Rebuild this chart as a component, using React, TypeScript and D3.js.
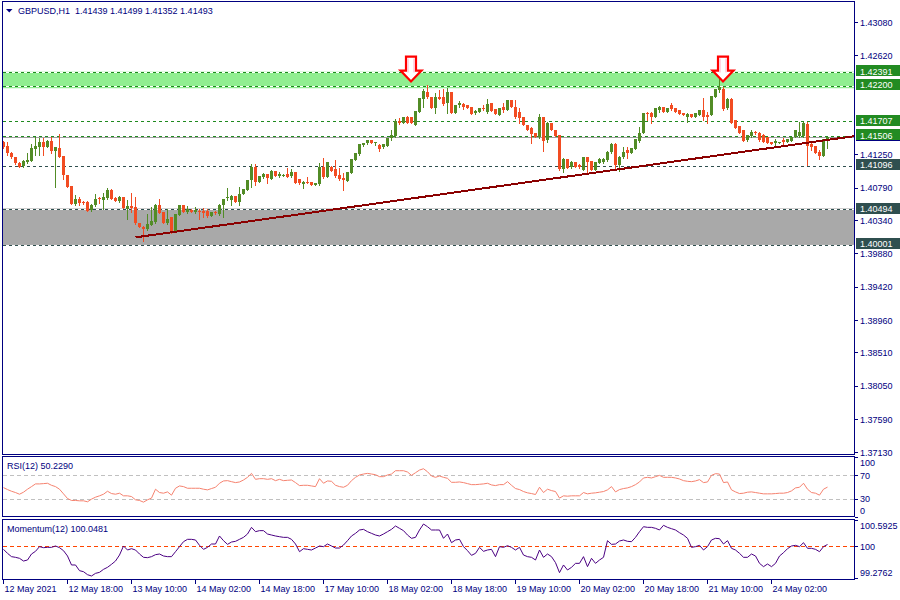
import React from "react";
import * as d3 from "d3";

const titleText = "GBPUSD,H1  1.41439 1.41499 1.41352 1.41493";
const rsiTitle = "RSI(12) 50.2290";
const momTitle = "Momentum(12) 100.0481";

const opens = [
1.41430,1.41374,1.41277,1.41222,1.41139,1.41097,1.41153,1.41167,1.41333,1.41360,
1.41430,1.41360,1.41443,1.41305,1.41347,1.41236,1.40973,1.40820,1.40571,1.40640,
1.40599,1.40599,1.40488,1.40557,1.40654,1.40627,1.40654,1.40765,1.40654,1.40613,
1.40668,1.40502,1.40544,1.40530,1.40308,1.40253,1.40225,1.40281,1.40322,1.40557,
1.40460,1.40308,1.40391,1.40184,1.40419,1.40557,1.40460,1.40488,1.40460,1.40474,
1.40474,1.40474,1.40405,1.40460,1.40433,1.40557,1.40668,1.40627,1.40682,1.40599,
1.40710,1.40765,1.40903,1.41084,1.40876,1.40945,1.40987,1.40917,1.41028,1.40959,
1.40959,1.40987,1.40959,1.41014,1.40917,1.40848,1.40876,1.40876,1.40834,1.40848,
1.41084,1.40945,1.41084,1.41056,1.40973,1.40931,1.40890,1.41000,1.41181,1.41264,
1.41388,1.41416,1.41457,1.41416,1.41388,1.41360,1.41374,1.41485,1.41513,1.41720,
1.41692,1.41775,1.41775,1.41665,1.41844,1.42024,1.42121,1.42052,1.41900,1.42052,
1.42052,1.41969,1.42121,1.41831,1.41941,1.41955,1.41941,1.41914,1.41831,1.41844,
1.41900,1.41844,1.41969,1.41886,1.41803,1.41914,1.41872,1.42010,1.41914,1.41844,
1.41775,1.41665,1.41623,1.41554,1.41499,1.41775,1.41457,1.41692,1.41596,1.41526,
1.41056,1.41194,1.41084,1.41153,1.41113,1.41042,1.41222,1.41167,1.41042,1.41139,
1.41153,1.41181,1.41291,1.41402,1.41113,1.41222,1.41319,1.41277,1.41333,1.41443,
1.41554,1.41831,1.41831,1.41775,1.41872,1.41914,1.41844,1.41941,1.41900,1.41872,
1.41831,1.41775,1.41817,1.41775,1.41803,1.41872,1.41803,1.41803,1.42052,1.42149,
1.42163,1.41900,1.42024,1.41734,1.41651,1.41596,1.41457,1.41513,1.41568,1.41554,
1.41526,1.41499,1.41430,1.41416,1.41416,1.41457,1.41430,1.41443,1.41499,1.41513,
1.41513,1.41678,1.41402,1.41374,1.41291,1.41236,1.41439];

const highs = [
1.41443,1.41430,1.41291,1.41222,1.41153,1.41181,1.41277,1.41402,1.41499,1.41485,
1.41485,1.41457,1.41499,1.41360,1.41540,1.41236,1.40973,1.40820,1.40696,1.40668,
1.40613,1.40613,1.40571,1.40710,1.40668,1.40724,1.40793,1.40779,1.40668,1.40682,
1.40668,1.40627,1.40724,1.40668,1.40308,1.40267,1.40433,1.40530,1.40571,1.40640,
1.40460,1.40502,1.40391,1.40433,1.40557,1.40557,1.40544,1.40502,1.40530,1.40502,
1.40516,1.40502,1.40460,1.40474,1.40571,1.40640,1.40793,1.40696,1.40682,1.40807,
1.40779,1.40903,1.41125,1.41125,1.40959,1.41000,1.40987,1.41042,1.41028,1.41014,
1.40987,1.41070,1.41056,1.41014,1.40917,1.40890,1.40945,1.40876,1.40862,1.41139,
1.41208,1.41153,1.41097,1.41181,1.41070,1.41000,1.41014,1.41194,1.41277,1.41402,
1.41416,1.41457,1.41457,1.41430,1.41402,1.41402,1.41485,1.41596,1.41748,1.41761,
1.41775,1.41789,1.41775,1.41858,1.42038,1.42163,1.42218,1.42052,1.42107,1.42149,
1.42163,1.42176,1.42121,1.41941,1.41996,1.41969,1.41941,1.41914,1.41872,1.41900,
1.41941,1.42024,1.41969,1.41886,1.41900,1.41969,1.42010,1.42010,1.42010,1.41900,
1.41775,1.41665,1.41637,1.41554,1.41817,1.41775,1.41706,1.41692,1.41596,1.41526,
1.41208,1.41194,1.41167,1.41153,1.41125,1.41222,1.41222,1.41167,1.41153,1.41208,
1.41208,1.41305,1.41416,1.41416,1.41236,1.41360,1.41360,1.41347,1.41471,1.41637,
1.41831,1.41844,1.41844,1.41900,1.41927,1.41914,1.41900,1.41969,1.41900,1.41872,
1.41831,1.41831,1.41817,1.41831,1.41872,1.42038,1.41844,1.42066,1.42163,1.42342,
1.42190,1.42038,1.42038,1.41734,1.41651,1.41596,1.41526,1.41596,1.41582,1.41568,
1.41540,1.41499,1.41430,1.41471,1.41430,1.41485,1.41471,1.41499,1.41596,1.41706,
1.41706,1.41706,1.41416,1.41374,1.41319,1.41471,1.41499];

const lows = [
1.41347,1.41250,1.41208,1.41125,1.41084,1.41084,1.41139,1.41167,1.41250,1.41250,
1.41250,1.41360,1.41277,1.40807,1.41222,1.40917,1.40807,1.40571,1.40557,1.40557,
1.40571,1.40474,1.40474,1.40544,1.40585,1.40502,1.40640,1.40640,1.40613,1.40599,
1.40516,1.40364,1.40460,1.40294,1.40253,1.40059,1.40211,1.40281,1.40308,1.40447,
1.40308,1.40294,1.40170,1.40184,1.40419,1.40460,1.40447,1.40460,1.40447,1.40364,
1.40391,1.40391,1.40405,1.40433,1.40419,1.40391,1.40627,1.40557,1.40599,1.40557,
1.40710,1.40765,1.40807,1.40834,1.40876,1.40931,1.40862,1.40917,1.40959,1.40945,
1.40959,1.40945,1.40945,1.40862,1.40848,1.40793,1.40862,1.40834,1.40834,1.40834,
1.40931,1.40945,1.41028,1.40945,1.40903,1.40765,1.40890,1.41000,1.41181,1.41250,
1.41374,1.41402,1.41416,1.41388,1.41305,1.41347,1.41374,1.41457,1.41499,1.41678,
1.41692,1.41692,1.41692,1.41665,1.41844,1.41914,1.42038,1.41900,1.41831,1.42024,
1.41941,1.41831,1.41831,1.41831,1.41914,1.41886,1.41900,1.41817,1.41817,1.41844,
1.41872,1.41831,1.41858,1.41817,1.41803,1.41844,1.41872,1.41914,1.41761,1.41692,
1.41665,1.41596,1.41416,1.41499,1.41485,1.41305,1.41430,1.41596,1.41513,1.41042,
1.41014,1.41070,1.41070,1.41084,1.41070,1.41042,1.41000,1.41042,1.41042,1.41139,
1.41139,1.41167,1.41277,1.41056,1.41028,1.41208,1.41208,1.41277,1.41333,1.41430,
1.41554,1.41734,1.41692,1.41775,1.41844,1.41844,1.41844,1.41872,1.41844,1.41817,
1.41803,1.41706,1.41775,1.41775,1.41803,1.41734,1.41692,1.41803,1.42052,1.42121,
1.41872,1.41886,1.41692,1.41623,1.41554,1.41443,1.41443,1.41499,1.41540,1.41443,
1.41430,1.41416,1.41402,1.41360,1.41416,1.41388,1.41430,1.41443,1.41499,1.41499,
1.41499,1.41113,1.41319,1.41277,1.41194,1.41236,1.41352];

const closes = [
1.41360,1.41277,1.41222,1.41139,1.41084,1.41167,1.41181,1.41347,1.41374,1.41430,
1.41360,1.41443,1.41305,1.41360,1.41222,1.40973,1.40807,1.40571,1.40640,1.40585,
1.40585,1.40474,1.40557,1.40640,1.40640,1.40668,1.40765,1.40640,1.40613,1.40668,
1.40516,1.40544,1.40516,1.40308,1.40253,1.40225,1.40294,1.40336,1.40557,1.40447,
1.40308,1.40364,1.40170,1.40433,1.40557,1.40460,1.40502,1.40460,1.40488,1.40460,
1.40447,1.40405,1.40460,1.40447,1.40557,1.40640,1.40675,1.40682,1.40599,1.40710,
1.40779,1.40903,1.41084,1.40876,1.40959,1.40987,1.40931,1.41028,1.40959,1.40987,
1.40973,1.40945,1.41014,1.40862,1.40862,1.40876,1.40862,1.40834,1.40862,1.41084,
1.40945,1.41153,1.41028,1.40959,1.40917,1.40903,1.41014,1.41194,1.41277,1.41402,
1.41416,1.41457,1.41416,1.41430,1.41333,1.41402,1.41485,1.41526,1.41720,1.41692,
1.41775,1.41692,1.41692,1.41858,1.42038,1.42135,1.42052,1.41900,1.42052,1.42024,
1.41955,1.42121,1.41831,1.41941,1.41969,1.41914,1.41900,1.41817,1.41858,1.41900,
1.41886,1.41955,1.41858,1.41817,1.41900,1.41872,1.42010,1.41914,1.41775,1.41761,
1.41665,1.41596,1.41540,1.41499,1.41775,1.41443,1.41692,1.41596,1.41513,1.41056,
1.41194,1.41070,1.41153,1.41084,1.41084,1.41222,1.41153,1.41042,1.41153,1.41194,
1.41194,1.41291,1.41402,1.41113,1.41222,1.41291,1.41277,1.41347,1.41471,1.41554,
1.41831,1.41817,1.41775,1.41900,1.41914,1.41844,1.41900,1.41886,1.41844,1.41817,
1.41803,1.41817,1.41775,1.41831,1.41872,1.41775,1.41775,1.42066,1.42163,1.42190,
1.41886,1.42024,1.41692,1.41623,1.41554,1.41443,1.41526,1.41568,1.41554,1.41457,
1.41430,1.41416,1.41402,1.41443,1.41430,1.41430,1.41471,1.41499,1.41596,1.41568,
1.41692,1.41374,1.41360,1.41277,1.41236,1.41471,1.41493];

const rsiValues = [
49.4,46.1,43.3,41.1,38.3,41.7,46.7,51.1,55.6,55.6,
56.1,56.7,53.3,51.1,46.7,38.9,31.1,27.8,27.8,27.2,
27.2,25.6,30.0,33.3,35.6,38.3,43.3,39.4,38.3,40.0,
35.6,35.6,34.4,28.9,27.8,25.0,28.9,31.7,46.7,41.1,
40.0,42.2,36.7,48.3,52.2,51.1,48.3,48.3,48.3,48.3,
46.7,45.6,47.8,50.0,56.7,60.6,61.1,59.4,57.8,58.9,
62.2,66.7,73.3,63.3,64.4,64.4,63.3,64.4,61.1,63.3,
61.1,61.7,62.2,57.8,52.8,53.3,53.3,52.2,51.1,64.4,
56.7,60.6,60.0,53.3,51.1,50.0,53.3,61.1,66.7,70.6,
72.2,73.3,72.2,71.1,67.8,67.8,70.6,72.2,77.8,77.8,
77.8,75.6,70.0,74.4,78.9,81.1,76.1,68.9,66.7,68.9,
66.7,65.0,58.3,58.3,58.9,57.8,56.1,54.4,54.4,55.0,
55.6,56.7,53.9,52.8,54.4,54.4,59.4,53.3,47.8,46.1,
42.8,40.6,39.4,37.8,50.0,41.1,46.7,44.4,42.8,31.7,
35.6,35.0,35.6,35.6,35.6,41.1,38.9,40.0,40.6,41.7,
42.8,45.6,51.1,42.2,46.1,47.8,48.9,51.1,54.4,58.9,
65.6,66.7,65.6,67.8,70.0,66.7,66.7,66.7,65.6,63.9,
61.1,60.0,59.4,60.6,62.8,57.8,58.9,70.0,72.8,72.2,
57.8,58.9,45.6,42.2,39.4,40.0,41.7,42.2,41.1,40.0,
38.9,38.9,38.9,39.4,40.0,40.0,41.1,43.9,48.9,50.0,
56.7,46.7,41.1,40.0,36.7,46.7,50.229];

const momentumValues = [
99.938,99.847,99.772,99.757,99.734,99.673,99.696,99.832,99.893,99.999,
99.976,99.983,99.983,100.014,99.976,99.908,99.787,99.583,99.583,99.454,
99.431,99.363,99.333,99.393,99.416,99.484,99.530,99.598,99.673,99.809,
100.014,99.923,99.953,99.923,99.832,99.757,99.749,99.772,99.817,99.832,
99.787,99.772,99.772,99.885,99.999,100.112,100.165,100.165,100.150,100.029,
99.938,99.983,100.059,100.059,100.241,100.135,100.051,100.104,100.120,100.165,
100.210,100.286,100.437,100.339,100.362,100.362,100.286,100.263,100.241,100.225,
100.210,100.210,100.165,100.059,99.885,99.953,99.938,99.923,99.968,100.014,
99.999,100.059,100.014,99.968,99.968,100.036,100.135,100.241,100.301,100.377,
100.392,100.339,100.301,100.263,100.241,100.286,100.339,100.392,100.468,100.415,
100.362,100.263,100.188,100.210,100.377,100.513,100.452,100.377,100.377,100.377,
100.188,100.286,100.089,100.150,100.165,99.999,99.908,99.802,99.847,99.983,
99.893,99.923,99.938,99.772,99.999,99.983,100.021,99.983,99.923,99.983,
99.809,99.772,99.757,99.696,99.923,99.757,99.832,99.772,99.636,99.409,
99.583,99.469,99.530,99.620,99.620,99.772,99.545,99.734,99.620,99.696,
99.757,100.135,100.051,100.059,100.127,100.150,100.120,100.112,100.210,100.339,
100.452,100.437,100.437,100.415,100.377,100.483,100.437,100.407,100.377,100.316,
100.263,100.188,99.983,99.999,100.029,99.923,99.999,100.150,100.188,100.180,
100.059,100.135,99.961,99.923,99.847,99.757,99.757,99.832,99.787,99.620,
99.545,99.605,99.545,99.620,99.787,99.862,99.953,100.014,100.029,99.999,
100.089,99.961,99.961,99.938,99.885,99.999,100.0481];

const priceTicks = [1.43080, 1.42620, 1.41250, 1.40790, 1.40340, 1.39880, 1.39420, 1.38960, 1.38510, 1.38050, 1.37590, 1.37130];
const timeLabels = ["12 May 2021", "12 May 18:00", "13 May 10:00", "14 May 02:00", "14 May 18:00", "17 May 10:00", "18 May 02:00", "18 May 18:00", "19 May 10:00", "20 May 02:00", "20 May 18:00", "21 May 10:00", "24 May 02:00"];
const timeLabelBars = [0, 16, 32, 48, 64, 80, 96, 112, 128, 144, 160, 176, 192];

const greenLevels = [1.42391, 1.42200, 1.41707, 1.41506];
const slateLevels = [1.41096, 1.40494, 1.40001];
const greenZone = [1.42173, 1.42402];
const greyZone = [1.40005, 1.40510];
const trendBars = [33, 206];
const trendPrices = [1.40110, 1.41458];
const arrowBars = [102, 180];
const arrowPrices = [1.42266, 1.42266];
const rsiLevels = [70, 30];
const rsiAxisLabels = [100, 70, 30, 0];
const momAxisLabels = ["100.5925", "100", "99.2762"];
const momAxisValues = [100.5925, 100, 99.2762];

export default function App() {
  const n = closes.length;
  const L = 2.5, R = 854.5;
  const navy = "#000080";
  const font = "'Liberation Sans', Arial, sans-serif";
  const bullC = "#528C26";
  const bearC = "#F24C22";
  const greenLine = "#1F8A1F";
  const slate = "#2F4F4F";

  const x = d3.scaleLinear().domain([0, n - 1]).range([3.5, 3.5 + 4 * (n - 1)]);
  const y = d3.scaleLinear().domain([1.371259, 1.433664]).range([453, 2]);
  const yR = d3.scaleLinear().domain([0, 100]).range([517, 457.5]);
  const yM = d3.scaleLinear().domain([99.2762, 100.5925]).range([578.5, 520.5]);
  const cr = (v: number) => Math.round(v - 0.5) + 0.5;

  const rsiPath = d3.line<number>().x((_, i) => x(i)).y((d) => yR(d))(rsiValues) || "";
  const momPath = d3.line<number>().x((_, i) => x(i)).y((d) => yM(d))(momentumValues) || "";

  const tx0 = x(trendBars[0]), ty0 = y(trendPrices[0]);
  const tx1 = x(trendBars[1]), ty1 = y(trendPrices[1]);
  const slope = (ty1 - ty0) / (tx1 - tx0);
  const tyR = ty0 + slope * (R - tx0);

  const lastClose = closes[n - 1];

  const levelLabel = (v: number, bg: string, key: string) => {
    const cy = y(v);
    return (
      <g key={key}>
        <rect x={856} y={Math.round(cy) - 7} width={44} height={11} fill={bg} />
        <text x={860} y={cy + 2.2} fill="#ffffff" fontSize={9} fontFamily={font}>{v.toFixed(5)}</text>
      </g>
    );
  };

  const dashedLevel = (v: number, color: string, key: string) => {
    const yy = cr(y(v));
    return (
      <g key={key}>
        <line x1={L} x2={R} y1={yy} y2={yy} stroke="#ffffff" strokeWidth={1} shapeRendering="crispEdges" />
        <line x1={L} x2={R} y1={yy} y2={yy} stroke={color} strokeWidth={1} strokeDasharray="3,3" shapeRendering="crispEdges" />
      </g>
    );
  };

  const arrowPath = (cx: number, ty: number, s: number) =>
    `M${cx - 5 * s},${ty - 25 * s} L${cx + 5 * s},${ty - 25 * s} L${cx + 5 * s},${ty - 11 * s} L${cx + 10.5 * s},${ty - 11 * s} L${cx},${ty} L${cx - 10.5 * s},${ty - 11 * s} L${cx - 5 * s},${ty - 11 * s} Z`;

  return (
    <svg width={900} height={600} style={{ position: "absolute", left: 0, top: 0, background: "#ffffff" }}>
      <defs>
        <clipPath id="mainClip"><rect x={L} y={1.5} width={R - L} height={453} /></clipPath>
        <clipPath id="rsiClip"><rect x={L} y={456.5} width={R - L} height={60} /></clipPath>
        <clipPath id="momClip"><rect x={L} y={519.5} width={R - L} height={60} /></clipPath>
      </defs>
      <rect x={0} y={0} width={900} height={600} fill="#ffffff" />

      <g clipPath="url(#mainClip)">
        <rect x={L} width={R - L} y={y(greenZone[1])} height={y(greenZone[0]) - y(greenZone[1])} fill="#90EE90" />
        <rect x={L} width={R - L} y={y(greyZone[1])} height={y(greyZone[0]) - y(greyZone[1])} fill="#A9A9A9" />
        <line x1={L} x2={R} y1={cr(y(lastClose))} y2={cr(y(lastClose))} stroke="#A0A0A0" strokeWidth={1} shapeRendering="crispEdges" />
        {greenLevels.map((v, i) => dashedLevel(v, greenLine, "g" + i))}
        {slateLevels.map((v, i) => dashedLevel(v, slate, "s" + i))}
        {opens.map((o, i) => {
          const c = closes[i];
          const up = c >= o;
          const col = up ? bullC : bearC;
          const cx = x(i);
          const top = Math.round(y(Math.max(o, c)));
          const bot = Math.round(y(Math.min(o, c)));
          const h = Math.max(1, bot - top);
          return (
            <g key={"c" + i} shapeRendering="crispEdges">
              <line x1={cx} x2={cx} y1={Math.round(y(highs[i]))} y2={Math.round(y(lows[i])) + 1} stroke={col} strokeWidth={1} />
              <rect x={cx - 1.5} y={top} width={3} height={h} fill={col} />
            </g>
          );
        })}
        <line x1={tx0} y1={ty0} x2={R} y2={tyR} stroke="#8B0000" strokeWidth={2} shapeRendering="crispEdges" />
        {arrowBars.map((b, i) => {
          const ax = x(b) - 0.5;
          const ay = y(arrowPrices[i]);
          return (
            <g key={"a" + i}>
              <path d={arrowPath(ax, ay, 1)} fill="#ffffff" stroke="#FF0000" strokeWidth={2.2} strokeLinejoin="miter" />
              <path d={`M${ax - 3},${ay - 23} L${ax - 3},${ay - 9}`} stroke="#FFB0C8" strokeWidth={1} />
              <path d={`M${ax + 3},${ay - 23} L${ax + 3},${ay - 9}`} stroke="#FFB0C8" strokeWidth={1} />
            </g>
          );
        })}
      </g>

      <g clipPath="url(#rsiClip)">
        {rsiLevels.map((v) => (
          <line key={"rl" + v} x1={L} x2={R} y1={cr(yR(v))} y2={cr(yR(v))} stroke="#C0C0C0" strokeDasharray="4,3" shapeRendering="crispEdges" />
        ))}
        <path d={rsiPath} fill="none" stroke="#F5826F" strokeWidth={1} />
      </g>

      <g clipPath="url(#momClip)">
        <line x1={L} x2={R} y1={cr(yM(100))} y2={cr(yM(100))} stroke="#FF4500" strokeDasharray="4,3" shapeRendering="crispEdges" />
        <path d={momPath} fill="none" stroke="#4B0082" strokeWidth={1} />
      </g>

      <g shapeRendering="crispEdges">
        <rect x={L} y={1.5} width={R - L} height={453} fill="none" stroke={navy} strokeWidth={1} />
        <rect x={L} y={456.5} width={R - L} height={60} fill="none" stroke={navy} strokeWidth={1} />
        <rect x={L} y={519.5} width={R - L} height={60} fill="none" stroke={navy} strokeWidth={1} />
      </g>

      <path d="M6,9 L12.5,9 L9.25,12.5 Z" fill={navy} />
      <text x={18} y={14} fontSize={9} fontFamily={font} fill={navy} style={{ whiteSpace: "pre" }}>{titleText}</text>
      <text x={7} y={469} fontSize={9} fontFamily={font} fill={navy}>{rsiTitle}</text>
      <text x={7} y={532} fontSize={9} fontFamily={font} fill={navy}>{momTitle}</text>

      {priceTicks.map((v) => (
        <g key={"pt" + v}>
          <line x1={R} x2={R + 3} y1={cr(y(v))} y2={cr(y(v))} stroke={navy} shapeRendering="crispEdges" />
          <text x={860} y={y(v) + 3.2} fontSize={9} fontFamily={font} fill={navy}>{v.toFixed(5)}</text>
        </g>
      ))}
      <rect x={856} y={Math.round(y(lastClose)) - 7} width={44} height={11} fill={navy} />
      {greenLevels.map((v, i) => levelLabel(v, "#228B22", "gl" + i))}
      {slateLevels.map((v, i) => levelLabel(v, slate, "sl" + i))}

      {rsiAxisLabels.map((v) => {
        const yy = yR(v);
        const ty = v === 100 ? yy + 8 : v === 0 ? yy - 2.8 : yy + 3.2;
        return (
          <g key={"ra" + v}>
            <line x1={R} x2={R + 3} y1={cr(yy)} y2={cr(yy)} stroke={navy} shapeRendering="crispEdges" />
            <text x={860} y={ty} fontSize={9} fontFamily={font} fill={navy}>{String(v)}</text>
          </g>
        );
      })}

      {momAxisValues.map((v, i) => {
        const yy = yM(v);
        const ty = i === 0 ? yy + 8.7 : i === 2 ? yy - 3 : yy + 3.2;
        return (
          <g key={"ma" + i}>
            <line x1={R} x2={R + 3} y1={cr(yy)} y2={cr(yy)} stroke={navy} shapeRendering="crispEdges" />
            <text x={860} y={ty} fontSize={9} fontFamily={font} fill={navy}>{momAxisLabels[i]}</text>
          </g>
        );
      })}

      {timeLabelBars.map((b, i) => (
        <g key={"t" + i}>
          <line x1={cr(x(b))} x2={cr(x(b))} y1={579.5} y2={583.5} stroke={navy} shapeRendering="crispEdges" />
          <text x={x(b) + 1} y={591.5} fontSize={9} fontFamily={font} fill={navy}>{timeLabels[i]}</text>
        </g>
      ))}
    </svg>
  );
}
